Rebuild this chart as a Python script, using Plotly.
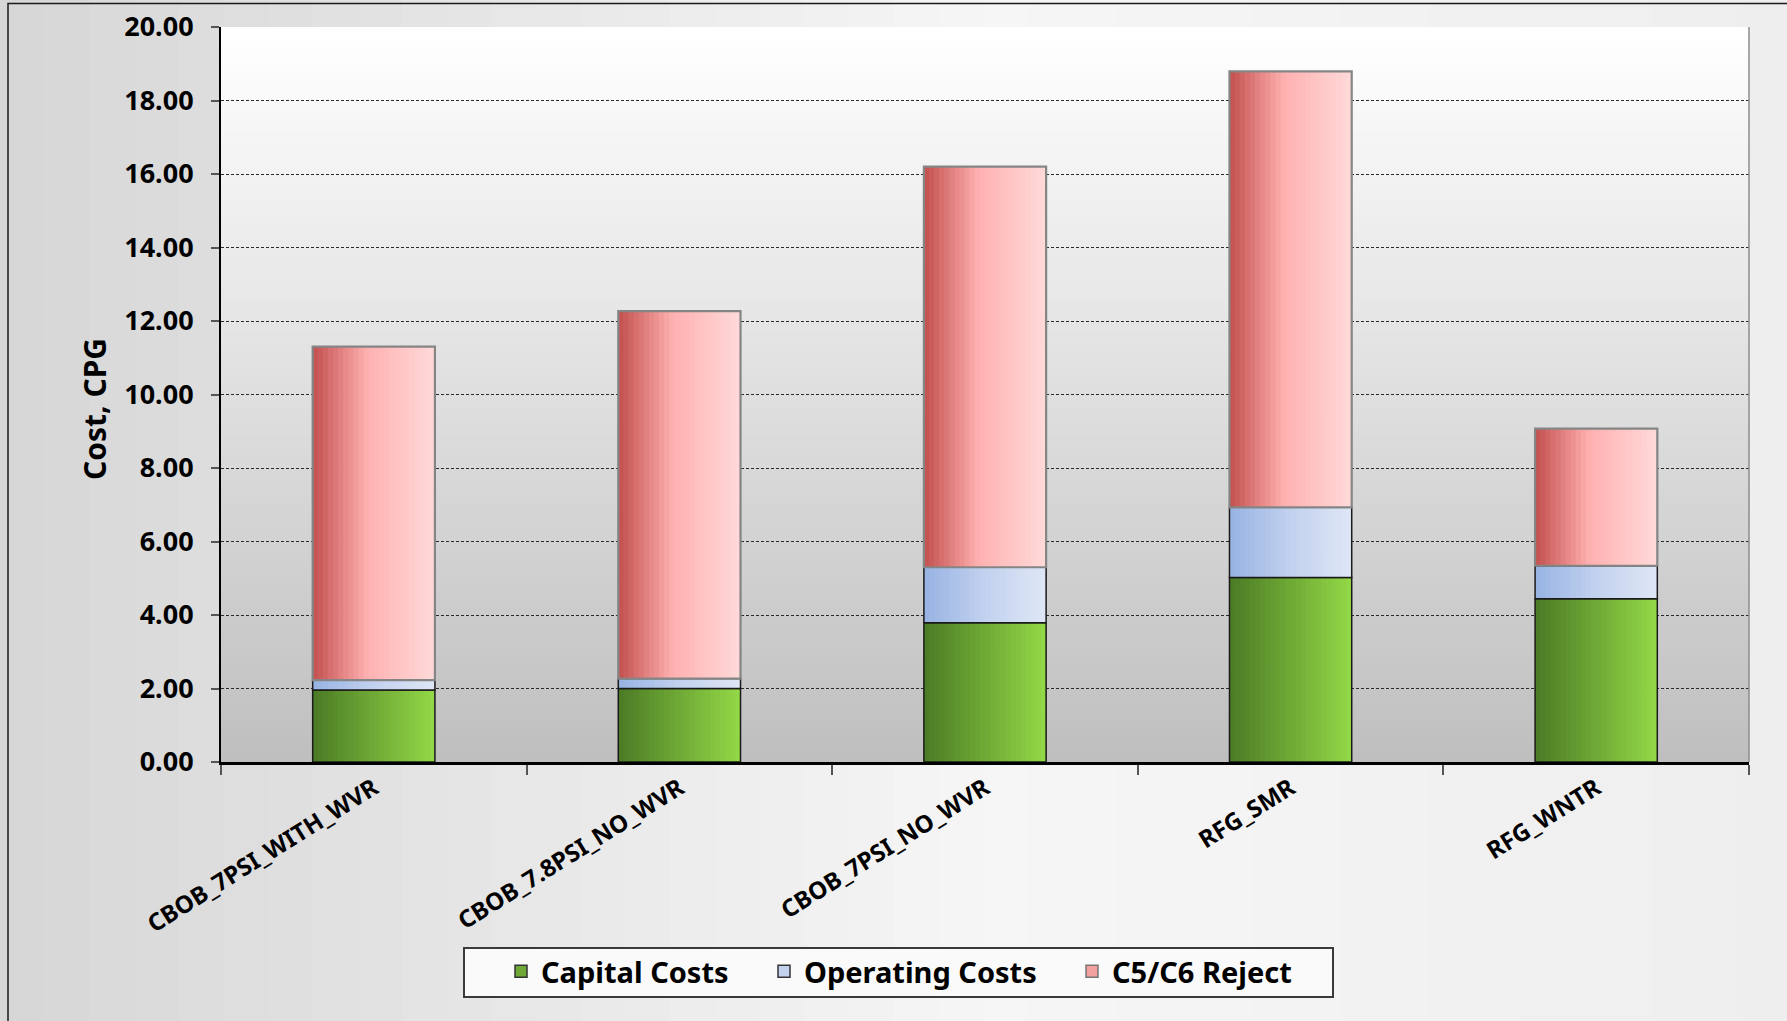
import plotly.graph_objects as go

# ---------------- data ----------------
categories = ["CBOB_7PSI_WITH_WVR", "CBOB_7.8PSI_NO_WVR", "CBOB_7PSI_NO_WVR", "RFG_SMR", "RFG_WNTR"]
capital_costs = [1.96, 2.00, 3.79, 5.02, 4.44]
operating_costs = [0.27, 0.27, 1.51, 1.91, 0.90]
c5c6_reject = [9.07, 10.00, 10.90, 11.86, 3.73]
series_names = ["Capital Costs", "Operating Costs", "C5/C6 Reject"]
y_tick_values = [0, 2, 4, 6, 8, 10, 12, 14, 16, 18, 20]
y_title = "Cost, CPG"

# ---------------- style ----------------
W, H = 1787, 1021
L, R, T, B = 221, 38, 27, 259
PW, PH = W - L - R, H - T - B
FONT = "Noto Sans, Open Sans, DejaVu Sans, sans-serif"

gradients = [
    [(0.0, "#4c7a25"), (1.0, "#93d947")],
    [(0.0, "#97b3e3"), (0.5, "#c2d1ee"), (1.0, "#dfe7f6")],
    [(0.0, "#c2504d"), (0.45, "#ffb1b1"), (1.0, "#ffdada")],
]
legend_fill = ["#6fa836", "#c2d1ee", "#f2a0a0"]
outline = [("#1a1a1a", 1.5), ("#1a1a1a", 1.5), ("#858585", 2.2)]
legend_text_left_px = [541, 804, 1112]
BAR_W = 0.40
N_STRIPS = 24


def hex2rgb(h):
    h = h.lstrip("#")
    return [int(h[i:i + 2], 16) for i in (0, 2, 4)]


def lerp(stops, t):
    for (t0, c0), (t1, c1) in zip(stops[:-1], stops[1:]):
        if t <= t1:
            f = 0 if t1 == t0 else (t - t0) / (t1 - t0)
            a, b = hex2rgb(c0), hex2rgb(c1)
            return "rgb(%d,%d,%d)" % tuple(round(a[k] + (b[k] - a[k]) * f) for k in range(3))
    return stops[-1][1]


def px_x(px):
    return (px - L) / PW


def px_y(py):
    return (H - B - py) / PH


fig = go.Figure()

series = [capital_costs, operating_costs, c5c6_reject]
bases = []
run = [0.0] * len(categories)
for s in series:
    bases.append(list(run))
    run = [a + b for a, b in zip(run, s)]

w = BAR_W / N_STRIPS
for si, (vals, base) in enumerate(zip(series, bases)):
    for i in range(N_STRIPS):
        t = (i + 0.5) / N_STRIPS
        fig.add_trace(go.Bar(
            x=categories, y=vals, base=base,
            offset=-BAR_W / 2 + i * w,
            width=w * (1.15 if i < N_STRIPS - 1 else 1.0),
            marker=dict(color=lerp(gradients[si], t), line=dict(width=0)),
            name=series_names[si], showlegend=False,
            hoverinfo="skip",
        ))
    lc, lw = outline[si]
    fig.add_trace(go.Bar(
        x=categories, y=vals, base=base, offset=-BAR_W / 2, width=BAR_W,
        marker=dict(color="rgba(0,0,0,0)", line=dict(color=lc, width=lw)),
        name=series_names[si], showlegend=False,
        hovertemplate="%{x}<br>" + series_names[si] + ": %{y:.2f}<extra></extra>",
    ))

# legend entries (one legend per series so each can be placed like the original)
for si in range(3):
    lc, lw = outline[si]
    fig.add_trace(go.Bar(
        x=[None], y=[None], name=series_names[si], showlegend=True,
        legend="legend" if si == 0 else "legend%d" % (si + 1),
        marker=dict(color=legend_fill[si], line=dict(color="#333333" if si < 2 else "#777777", width=1.5)),
        hoverinfo="skip",
    ))

shapes = []
# paper background gradient (left darker -> middle light -> right light grey)
paper_stops = [(0.0, "#d6d6d6"), (0.55, "#f6f6f6"), (1.0, "#eeeeee")]
NP = 40
for i in range(NP):
    x0 = i * W / NP
    x1 = (i + 1) * W / NP + 1
    shapes.append(dict(type="rect", xref="paper", yref="paper", layer="below",
                       x0=px_x(x0), x1=px_x(x1), y0=px_y(H + 5), y1=px_y(-5),
                       fillcolor=lerp(paper_stops, (i + 0.5) / NP), line=dict(width=0)))
# plot area vertical gradient
plot_stops = [(0.0, "#bfbfbf"), (1.0, "#ffffff")]
NB = 70
for i in range(NB):
    shapes.append(dict(type="rect", xref="paper", yref="paper", layer="below",
                       x0=0, x1=1, y0=i / NB, y1=min(1, (i + 1) / NB + 0.002),
                       fillcolor=lerp(plot_stops, (i + 0.5) / NB), line=dict(width=0)))
# right edge of plot area
shapes.append(dict(type="line", xref="paper", yref="paper", x0=1, x1=1, y0=0, y1=1,
                   line=dict(color="#8c8c8c", width=1.5)))
# legend box
shapes.append(dict(type="rect", xref="paper", yref="paper", layer="below",
                   x0=px_x(464), x1=px_x(1333), y0=px_y(997), y1=px_y(948),
                   line=dict(color="#3a3a3a", width=2), fillcolor="#fafafa"))
# outer frame
shapes.append(dict(type="rect", xref="paper", yref="paper",
                   x0=px_x(8), x1=px_x(W + 20), y0=px_y(H + 20), y1=px_y(3.5),
                   line=dict(color="#1a1a1a", width=1.5), fillcolor="rgba(0,0,0,0)"))

annotations = [dict(
    text=y_title, textangle=-90, xref="paper", yref="paper",
    x=px_x(94), y=px_y(409), xanchor="center", yanchor="middle", showarrow=False,
    font=dict(family=FONT, size=30, color="black", weight="bold"),
)]

legend_common = dict(
    orientation="h", yanchor="top", y=px_y(946), xanchor="left",
    bgcolor="rgba(0,0,0,0)", borderwidth=0,
    font=dict(family=FONT, size=29, color="black", weight="bold"),
    itemwidth=30,
)

fig.update_layout(
    width=W, height=H,
    margin=dict(l=L, r=R, t=T, b=B, pad=0, autoexpand=False),
    barmode="overlay",
    paper_bgcolor="#ebebeb",
    plot_bgcolor="rgba(0,0,0,0)",
    shapes=shapes,
    annotations=annotations,
    font=dict(family=FONT, color="black"),
    showlegend=True,
    legend=dict(x=px_x(legend_text_left_px[0] - 40), **legend_common),
    legend2=dict(x=px_x(legend_text_left_px[1] - 40), **legend_common),
    legend3=dict(x=px_x(legend_text_left_px[2] - 40), **legend_common),
    xaxis=dict(
        type="category", range=[-0.5, len(categories) - 0.5], automargin=False,
        showline=True, linecolor="black", linewidth=3,
        ticks="outside", tickson="boundaries", ticklen=10, tickcolor="#555555", tickwidth=1.5,
        tickangle=-32, tickfont=dict(family=FONT, size=24, color="black", weight="bold"),
        showgrid=False, zeroline=False, fixedrange=True,
    ),
    yaxis=dict(
        range=[0, 20], tickvals=y_tick_values, tickformat=".2f", automargin=False,
        showline=True, linecolor="black", linewidth=2,
        ticks="outside", ticklen=8, tickcolor="#555555", tickwidth=1.5,
        tickfont=dict(family=FONT, size=27, color="black", weight="bold"),
        ticklabelstandoff=12,
        showgrid=True, gridcolor="#2a2a2a", gridwidth=1, griddash="3px,2px",
        zeroline=False, fixedrange=True,
    ),
)

fig.write_html("out.html", config={"displayModeBar": False},
               post_script="document.body.style.margin='0';document.body.style.overflow='hidden';")
